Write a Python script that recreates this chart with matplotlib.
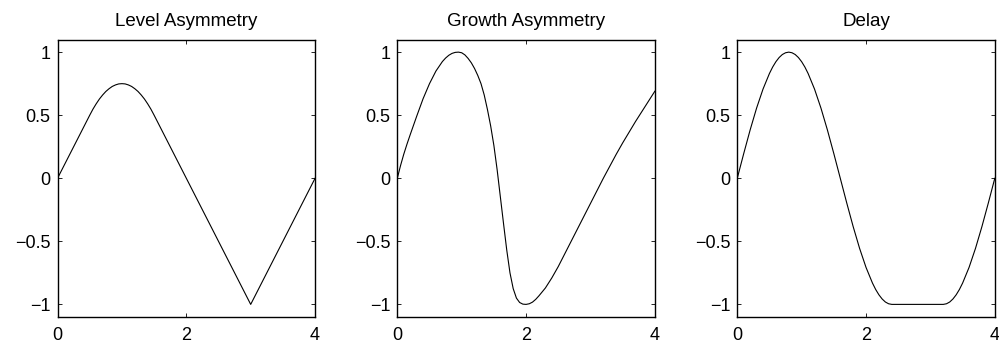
import matplotlib
matplotlib.use("Agg")
import matplotlib.pyplot as plt

plt.rcParams['font.family'] = ['Liberation Sans', 'DejaVu Sans']

titles = ["Level Asymmetry", "Growth Asymmetry", "Delay"]

# level asymmetry: linear legs, rounded top, sharp trough
level_x = [0, 0.5, 0.55, 0.6, 0.65, 0.7, 0.75, 0.8, 0.85, 0.9, 0.95, 1.0,
           1.05, 1.1, 1.15, 1.2, 1.25, 1.3, 1.35, 1.4, 1.45, 1.5, 3.0, 4.0]
level_y = [0, 0.5, 0.548, 0.59, 0.628, 0.66, 0.688, 0.71, 0.728, 0.74, 0.748, 0.75,
           0.748, 0.74, 0.728, 0.71, 0.688, 0.66, 0.628, 0.59, 0.548, 0.5, -1.0, 0.0]

# growth asymmetry: fast rise, steep fall, slow recovery
growth_x = [0, 0.05, 0.1, 0.15, 0.2, 0.3, 0.4, 0.5, 0.6, 0.7, 0.75, 0.8, 0.85, 0.9,
            0.95, 1.0, 1.05, 1.1, 1.15, 1.2, 1.25, 1.3, 1.35, 1.4, 1.45, 1.5, 1.55,
            1.6, 1.65, 1.7, 1.75, 1.8, 1.85, 1.9, 1.95, 2.0, 2.05, 2.1, 2.15, 2.2,
            2.3, 2.4, 2.5, 2.6, 2.7, 2.8, 2.9, 3.0, 3.1, 3.2, 3.3, 3.4, 3.5, 3.6,
            3.7, 3.8, 3.9, 4.0]
growth_y = [0, 0.10, 0.19, 0.27, 0.345, 0.49, 0.63, 0.75, 0.85, 0.925, 0.953, 0.975,
            0.99, 0.998, 1.0, 0.995, 0.978, 0.95, 0.915, 0.87, 0.815, 0.75, 0.66,
            0.545, 0.415, 0.26, 0.07, -0.145, -0.36, -0.57, -0.75, -0.875, -0.95,
            -0.985, -0.998, -1.0, -0.995, -0.982, -0.96, -0.932, -0.87, -0.79,
            -0.70, -0.60, -0.50, -0.40, -0.30, -0.20, -0.10, 0.0, 0.095, 0.19,
            0.28, 0.365, 0.45, 0.53, 0.61, 0.69]

# delay: sine that sits at the trough for a while
delay_x = [0, 0.1, 0.2, 0.3, 0.4, 0.5, 0.55, 0.6, 0.65, 0.7, 0.75, 0.8, 0.85, 0.9,
           0.95, 1.0, 1.05, 1.1, 1.2, 1.3, 1.4, 1.5, 1.6, 1.7, 1.8, 1.9, 2.0, 2.1,
           2.15, 2.2, 2.25, 2.3, 2.35, 2.4, 3.2, 3.25, 3.3, 3.35, 3.4, 3.45, 3.5,
           3.6, 3.7, 3.8, 3.9, 4.0]
delay_y = [0, 0.195, 0.383, 0.556, 0.707, 0.831, 0.882, 0.924, 0.957, 0.981, 0.995,
           1.0, 0.995, 0.981, 0.957, 0.924, 0.882, 0.831, 0.707, 0.556, 0.383,
           0.195, 0, -0.195, -0.383, -0.556, -0.707, -0.831, -0.882, -0.924,
           -0.957, -0.981, -0.995, -1.0, -1.0, -0.995, -0.981, -0.957, -0.924,
           -0.882, -0.831, -0.707, -0.556, -0.383, -0.195, 0.0]

series = [(level_x, level_y), (growth_x, growth_y), (delay_x, delay_y)]

xticks = [0, 2, 4]
yticks = [-1, -0.5, 0, 0.5, 1]
yticklabels = ["\u22121", "\u22120.5", "0", "0.5", "1"]

fig = plt.figure(figsize=(9.99, 3.43), dpi=100)
lefts = [0.0576, 0.3977, 0.738]

for left, title, (xs, ys) in zip(lefts, titles, series):
    ax = fig.add_axes([left, 0.0758, 0.2578, 0.809])
    ax.plot(xs, ys, color='black', linewidth=0.8)
    ax.set_xlim(0, 4)
    ax.set_ylim(-1.1, 1.1)
    ax.set_xticks(xticks)
    ax.set_yticks(yticks)
    ax.set_yticklabels(yticklabels)
    ax.tick_params(direction='in', top=True, right=True, length=3, width=0.6,
                   labelsize=13)
    ax.tick_params(axis='x', pad=7)
    ax.tick_params(axis='y', pad=5)
    for sp in ax.spines.values():
        sp.set_linewidth(1.0)
    ax.set_title(title, fontsize=13.5, pad=10)

fig.savefig("out.png", dpi=100)
plt.close(fig)
